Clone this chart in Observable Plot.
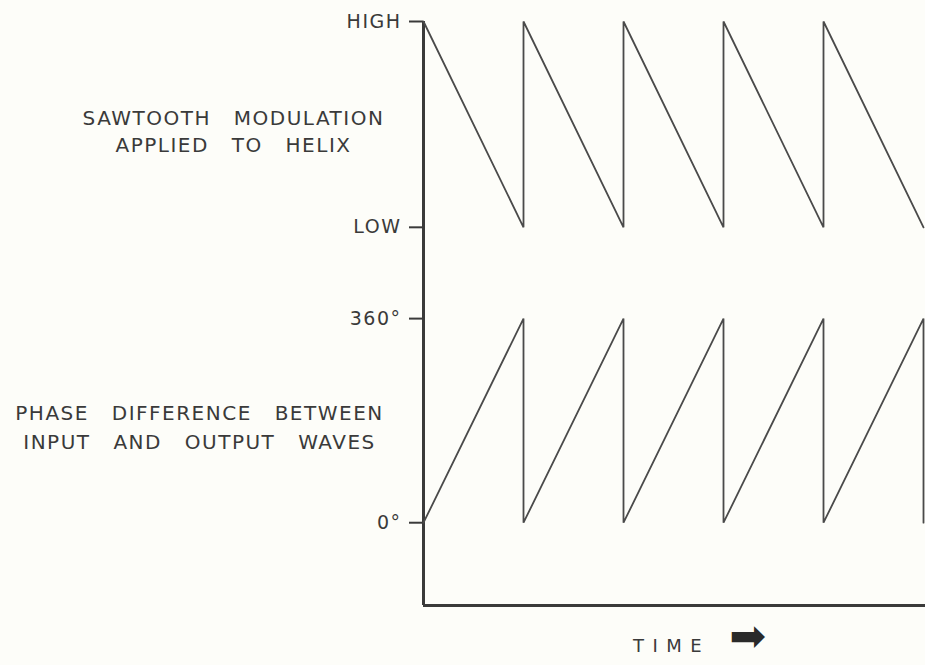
<!DOCTYPE html>
<html>
<head>
<meta charset="utf-8">
<script src="https://cdn.jsdelivr.net/npm/d3@7"></script>
<script src="https://cdn.jsdelivr.net/npm/@observablehq/plot@0.6"></script>
<style>
  html, body { margin: 0; padding: 0; background: #fdfdf9; }
  #chart svg { display: block; }
</style>
</head>
<body>
<div id="chart"></div>
<script>
// Axis levels (tick labels and their positions on a shared vertical scale, in "degree" units)
const levelNames  = ["0°", "360°", "LOW", "HIGH"];
const levelValues = [0, 360, 521, 884];

// Sawtooth modulation applied to helix (time in cycles, level names)
const helixTime  = [0, 1, 1, 2, 2, 3, 3, 4, 4, 5];
const helixLevel = ["HIGH", "LOW", "HIGH", "LOW", "HIGH", "LOW", "HIGH", "LOW", "HIGH", "LOW"];

// Phase difference between input and output waves (degrees)
const phaseTime  = [0, 1, 1, 2, 2, 3, 3, 4, 4, 5, 5];
const phaseDeg   = [0, 360, 0, 360, 0, 360, 0, 360, 0, 360, 0];

const helixLabel = "SAWTOOTH MODULATION\nAPPLIED TO HELIX";
const phaseLabel = "PHASE DIFFERENCE BETWEEN\nINPUT AND OUTPUT WAVES";
const timeLabel  = "TIME";
const arrowGlyph = "➡";

const levelOf = name => levelValues[levelNames.indexOf(name)];
const helixData = helixTime.map((t, i) => ({t, v: levelOf(helixLevel[i])}));
const phaseData = phaseTime.map((t, i) => ({t, v: phaseDeg[i]}));

const ink = "#3a3a3a";
const lineInk = "#4a4a4a";

const chart = Plot.plot({
  width: 925,
  height: 665,
  marginLeft: 423,
  marginRight: 0,
  marginTop: 21,
  marginBottom: 60,
  x: {domain: [0, 5.02], axis: null},
  y: {domain: [-146, 884], axis: null},
  style: {
    background: "transparent",
    fontFamily: "'DejaVu Sans', sans-serif",
    fontSize: "19px",
    color: ink,
    letterSpacing: "1.5px",
    wordSpacing: "15px"
  },
  marks: [
    Plot.axisY({
      ticks: levelValues,
      tickFormat: d => levelNames[levelValues.indexOf(d)],
      tickSize: 14,
      tickPadding: 8,
      strokeWidth: 2,
      stroke: ink,
      fill: ink,
      fontSize: 19,
      label: null
    }),
    Plot.ruleX([0], {stroke: ink, strokeWidth: 3}),
    Plot.ruleY([-146], {stroke: ink, strokeWidth: 3}),
    Plot.line(helixData, {x: "t", y: "v", stroke: lineInk, strokeWidth: 1.8, strokeLinejoin: "miter"}),
    Plot.line(phaseData, {x: "t", y: "v", stroke: lineInk, strokeWidth: 1.8, strokeLinejoin: "miter"}),
    Plot.text([helixLabel], {
      y: [(levelOf("LOW") + levelOf("HIGH")) / 2],
      text: d => d,
      frameAnchor: "left",
      dx: -190, dy: 5,
      textAnchor: "middle",
      lineHeight: 1.36,
      fontSize: 20,
      fill: ink
    }),
    Plot.text([phaseLabel], {
      y: [(levelOf("0°") + levelOf("360°")) / 2],
      text: d => d,
      frameAnchor: "left",
      dx: -224, dy: 5,
      textAnchor: "middle",
      lineHeight: 1.45,
      fontSize: 20,
      fill: ink
    }),
    Plot.text([timeLabel], {
      frameAnchor: "bottom",
      dx: -3, dy: 46,
      textAnchor: "middle",
      fontSize: 18,
      fill: ink
    }),
    Plot.text([arrowGlyph], {
      frameAnchor: "bottom",
      dx: 74, dy: 45,
      textAnchor: "middle",
      fontSize: 44,
      fill: "#2a2a2a"
    })
  ]
});

document.getElementById("chart").append(chart);

// Letter-spaced TIME label, as in the original lettering
d3.select(chart).selectAll("text").each(function () {
  if (this.textContent === timeLabel) {
    this.style.letterSpacing = "8.5px";
    this.style.wordSpacing = "0px";
  }
});
</script>
</body>
</html>
